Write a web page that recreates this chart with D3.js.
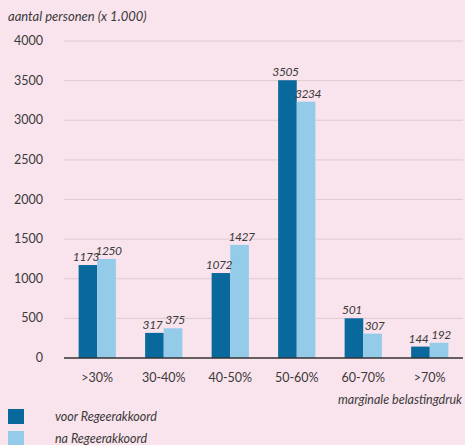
<!DOCTYPE html>
<meta charset="utf-8">
<head>
    <title></title>
    <script src="https://cdn.jsdelivr.net/npm/d3@7"></script>
</head>
<style>
    body{ margin:0; background:#f9e3ec; }
    text{
      font-family: Lato, "Open Sans", sans-serif;
      font-style: italic;
      fill:#3a3a3a;
    }
</style>
<svg width="465" height="445"></svg>
<script>
    var categories = ['>30%', '30-40%', '40-50%', '50-60%', '60-70%', '>70%'],
        voor = [1173, 317, 1072, 3505, 501, 144],
        na = [1250, 375, 1427, 3234, 307, 192],
        yTicks = [0, 500, 1000, 1500, 2000, 2500, 3000, 3500, 4000],
        seriesNames = ['voor Regeerakkoord', 'na Regeerakkoord'],
        seriesColors = ['#0a699c', '#93cbe8'];

    var svg = d3.select('svg');
    svg.append('rect').attr('width', 465).attr('height', 445).style('fill', '#f9e3ec');

    var plotLeft = 64, plotRight = 463, plotTop = 41, plotBottom = 358;

    var x = d3.scaleBand().domain(categories).range([plotLeft, plotRight]).paddingInner(0.44).paddingOuter(0.22);
    var x1 = d3.scaleBand().domain([0, 1]).range([0, x.bandwidth()]);
    var y = d3.scaleLinear().domain([0, 4000]).range([plotBottom, plotTop]);

    // gridlines
    svg.append('g').selectAll('line').data(yTicks.slice(1)).enter().append('line')
        .attr('x1', plotLeft).attr('x2', plotRight)
        .attr('y1', function(d){ return y(d); }).attr('y2', function(d){ return y(d); })
        .style('stroke', '#dccbd3').style('stroke-width', 1);

    // y labels
    svg.append('g').selectAll('text').data(yTicks).enter().append('text')
        .attr('x', 43).attr('y', function(d){ return y(d) + 4; })
        .attr('text-anchor', 'end').style('font-size', '12.5px').style('font-style', 'normal')
        .text(function(d){ return d; });

    var data = categories.map(function(c, i){ return {cat:c, vals:[voor[i], na[i]]}; });

    var groups = svg.append('g').selectAll('g').data(data).enter().append('g')
        .attr('transform', function(d){ return 'translate(' + x(d.cat) + ',0)'; });

    groups.selectAll('rect').data(function(d){ return d.vals; }).enter().append('rect')
        .attr('x', function(d, i){ return x1(i); })
        .attr('width', x1.bandwidth())
        .attr('y', function(d){ return y(d); })
        .attr('height', function(d){ return plotBottom - y(d); })
        .style('fill', function(d, i){ return seriesColors[i]; });

    groups.selectAll('text').data(function(d){ return d.vals; }).enter().append('text')
        .attr('x', function(d, i){ return x1(i) + x1.bandwidth() / 2 + (i ? 2 : -2); })
        .attr('y', function(d){ return y(d) - 4; })
        .attr('text-anchor', 'middle').style('font-size', '12px').style('letter-spacing', '-0.4px')
        .text(function(d){ return d; });

    // axis line
    svg.append('line').attr('x1', plotLeft).attr('x2', plotRight).attr('y1', plotBottom).attr('y2', plotBottom)
        .style('stroke', '#333').style('stroke-width', 1.5);

    // x labels
    svg.append('g').selectAll('text').data(categories).enter().append('text')
        .attr('x', function(d){ return x(d) + x.bandwidth() / 2; })
        .attr('y', 382).attr('text-anchor', 'middle').style('font-size', '12.5px').style('font-style', 'normal')
        .text(function(d){ return d; });

    svg.append('text').attr('x', 462).attr('y', 404).attr('text-anchor', 'end')
        .style('font-size', '12.5px').text('marginale belastingdruk');

    svg.append('text').attr('x', 8).attr('y', 21).style('font-size', '13px')
        .text('aantal personen (x 1.000)');

    // legend
    var legend = svg.append('g').selectAll('g').data(seriesNames).enter().append('g')
        .attr('transform', function(d, i){ return 'translate(8,' + (409 + i * 22) + ')'; });
    legend.append('rect').attr('width', 16).attr('height', 15)
        .style('fill', function(d, i){ return seriesColors[i]; });
    legend.append('text').attr('x', 47).attr('y', 12).style('font-size', '12.5px')
        .text(function(d){ return d; });
</script>
